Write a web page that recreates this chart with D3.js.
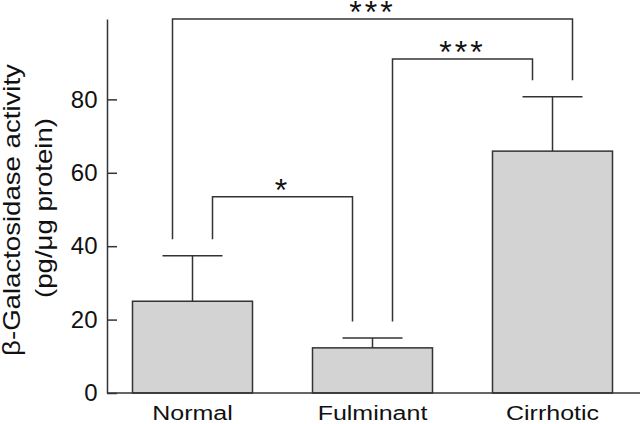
<!DOCTYPE html>
<html>
<head>
    <meta charset="utf-8">
    <title>beta-Galactosidase activity</title>
    <script src="https://cdn.jsdelivr.net/npm/d3@7"></script>
    <style>
        body { margin: 0; background: #fff; }
        text { font-family: "Liberation Sans", Arial, sans-serif; fill: #111; }
    </style>
</head>
<body>
<script>
// data
var groups = ["Normal", "Fulminant", "Cirrhotic"];
var means = [25.0, 12.3, 65.9];
var errs = [12.4, 2.7, 14.8];          // upper error bar (SD)
var yTicks = [0, 20, 40, 60, 80];
// significance brackets: which groups, height of bracket (data units), label
var cmpFrom = [0, 0, 1];
var cmpTo = [2, 1, 2];
var cmpLevel = [101.9, 53.5, 91.0];
var cmpLabel = ["***", "*", "***"];

var w = 640, h = 424;
var ink = "#333";

var svg = d3.select("body").append("svg")
    .attr("width", w)
    .attr("height", h);

var x = d3.scaleBand()
    .domain(groups)
    .range([102.5, 642.5])
    .paddingInner(1 / 3)
    .paddingOuter(1 / 6);

var y = d3.scaleLinear()
    .domain([0, 101.9])
    .range([393, 19]);

//bars
svg.selectAll("rect.bar")
    .data(groups)
    .enter()
    .append("rect")
    .attr("class", "bar")
    .attr("x", function(d) { return x(d); })
    .attr("y", function(d, i) { return y(means[i]); })
    .attr("width", x.bandwidth())
    .attr("height", function(d, i) { return y(0) - y(means[i]); })
    .attr("fill", "#d3d3d3")
    .attr("stroke", ink)
    .attr("stroke-width", 1.5);

//error bars: stem + cap
var cx = function(d) { return x(d) + x.bandwidth() / 2; };
svg.selectAll("line.stem")
    .data(groups)
    .enter()
    .append("line")
    .attr("x1", cx).attr("x2", cx)
    .attr("y1", function(d, i) { return y(means[i]); })
    .attr("y2", function(d, i) { return y(means[i] + errs[i]); })
    .attr("stroke", ink).attr("stroke-width", 1.5);
svg.selectAll("line.cap")
    .data(groups)
    .enter()
    .append("line")
    .attr("x1", function(d) { return cx(d) - x.bandwidth() / 4; })
    .attr("x2", function(d) { return cx(d) + x.bandwidth() / 4; })
    .attr("y1", function(d, i) { return y(means[i] + errs[i]); })
    .attr("y2", function(d, i) { return y(means[i] + errs[i]); })
    .attr("stroke", ink).attr("stroke-width", 1.5);

//y axis, ticks pointing into the plot
var yAxis = d3.axisLeft(y)
    .tickValues(yTicks)
    .tickSizeInner(-10)
    .tickSizeOuter(0)
    .tickPadding(9.5);
var ga = svg.append("g")
    .attr("transform", "translate(107,0)")
    .call(yAxis);
ga.selectAll("path, line").attr("stroke", ink).attr("stroke-width", 1.5);
ga.selectAll("text")
    .attr("font-size", "24px")
    .attr("font-family", "Liberation Sans, Arial, sans-serif")
    .attr("fill", "#111");

//x axis baseline
svg.append("line")
    .attr("x1", 107).attr("x2", w)
    .attr("y1", y(0)).attr("y2", y(0))
    .attr("stroke", ink).attr("stroke-width", 1.5);

//category labels (the original type is set wide)
svg.selectAll("text.cat")
    .data(groups)
    .enter()
    .append("text")
    .attr("class", "cat")
    .text(function(d) { return d; })
    .attr("text-anchor", "middle")
    .attr("font-size", "20px")
    .attr("transform", function(d) {
        return "translate(" + cx(d) + ",419.5) scale(1.25,1)";
    });

//y axis title, two lines
var titleLines = ["\u03b2-Galactosidase activity", "(pg/\u03bcg protein)"];
svg.selectAll("text.ytitle")
    .data(titleLines)
    .enter()
    .append("text")
    .attr("class", "ytitle")
    .text(function(d) { return d; })
    .attr("text-anchor", "middle")
    .attr("font-size", "23px")
    .attr("transform", function(d, i) {
        return "translate(" + (20 + i * 32) + "," + (210 - i * 2) + ") rotate(-90) scale(1.2,1)";
    });

//significance brackets
var legGap = 16.5;
cmpFrom.forEach(function(a, k) {
    var b = cmpTo[k];
    var outer = (b - a) > 1;
    var xa = cx(groups[a]) + (outer ? -20 : 20);
    var xb = cx(groups[b]) + (outer ? 20 : -20);
    var top = y(cmpLevel[k]);
    var ya = y(means[a] + errs[a]) - legGap;
    var yb = y(means[b] + errs[b]) - legGap;
    svg.append("path")
        .attr("d", d3.line()([[xa, ya], [xa, top], [xb, top], [xb, yb]]))
        .attr("fill", "none")
        .attr("stroke", ink)
        .attr("stroke-width", 1.5);
    svg.append("text")
        .text(cmpLabel[k])
        .attr("x", (xa + xb) / 2)
        .attr("y", top + 4)
        .attr("text-anchor", "middle")
        .attr("font-size", "32px")
        .attr("letter-spacing", "3px");
});
</script>
</body>
</html>
